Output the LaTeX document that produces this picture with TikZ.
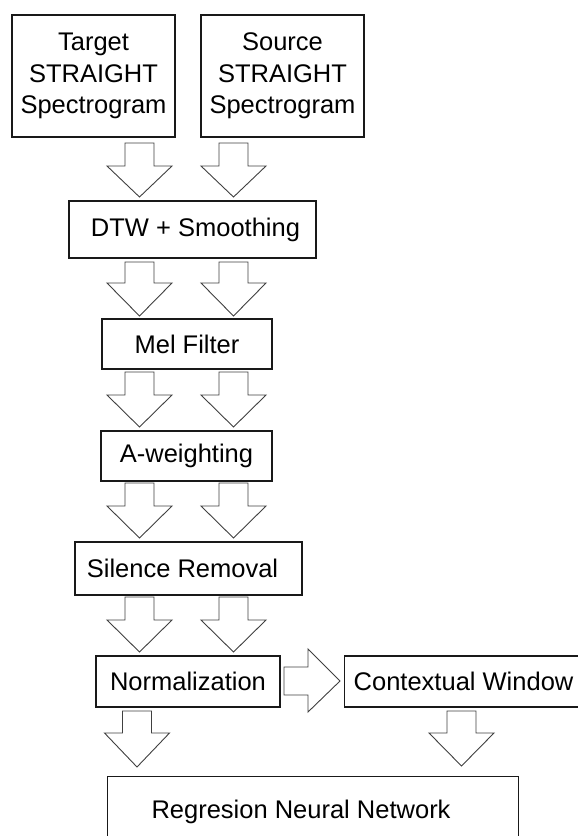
\documentclass[tikz,border=0pt]{standalone}
\usepackage{fontspec}
\setmainfont{Liberation Sans}
\tikzset{
  box/.style={draw=black!90, line width=1.1pt, fill=white, inner sep=0pt, font=\fontsize{25.5}{31.5}\selectfont, align=center},
  arrowshape/.style={draw=black!75, line width=0.9pt, fill=white, line join=miter},
  pics/downarr/.style args={#1/#2}{code={
    \draw[arrowshape] (-14.5,0) -- (-14.5,#2) -- (-32.5,#2) -- (0,#1) -- (32.5,#2) -- (14.5,#2) -- (14.5,0) -- cycle;}}
}
\begin{document}
\begin{tikzpicture}[x=1pt,y=-1pt]
\useasboundingbox (0,0) rectangle (578,836);
\clip (0,0) rectangle (578,836);
% boxes
\node[box, minimum width=163pt, minimum height=122pt] (tgt) at (93.5,76) {Target\\STRAIGHT\\Spectrogram};
\node[box, minimum width=163pt, minimum height=122pt] (src) at (282.5,76) {Source\\STRAIGHT\\Spectrogram};
\node[box, minimum width=247pt, minimum height=57pt] (dtw) at (192.5,229.5) {\hspace*{6pt}DTW + Smoothing};
\node[box, minimum width=170pt, minimum height=50pt] (mel) at (187,344) {Mel Filter};
\node[box, minimum width=171pt, minimum height=50pt] (aw) at (186.5,456) {A-weighting};
\node[box, minimum width=227pt, minimum height=53pt] (sil) at (188.5,568.5) {Silence Removal\hspace*{12pt}};
\node[box, minimum width=184pt, minimum height=51pt] (norm) at (188,681.5) {Normalization};
\node[box, minimum width=252pt, minimum height=51pt, anchor=west] (ctx) at (344,681.5) {Contextual Window\hspace*{14pt}};
\node[box, minimum width=411pt, minimum height=70pt, anchor=north west] (reg) at (107,776) {Regresion Neural Network\hspace*{24pt}};
% down arrows between stages
\foreach \cx in {139.5,233.5}{
  \pic at (\cx,143) {downarr=54/23};
  \pic at (\cx,262) {downarr=54/21};
  \pic at (\cx,372) {downarr=55/23};
  \pic at (\cx,483) {downarr=55/23};
  \pic at (\cx,597) {downarr=55/23};
}
\pic at (137,711) {downarr=56/22};
\pic at (461.5,711) {downarr=55/22};
% right arrow from Normalization to Contextual Window
\draw[arrowshape] (284,667) -- (308,667) -- (308,649) -- (340,681) -- (308,712) -- (308,695) -- (284,695) -- cycle;
\end{tikzpicture}
\end{document}
